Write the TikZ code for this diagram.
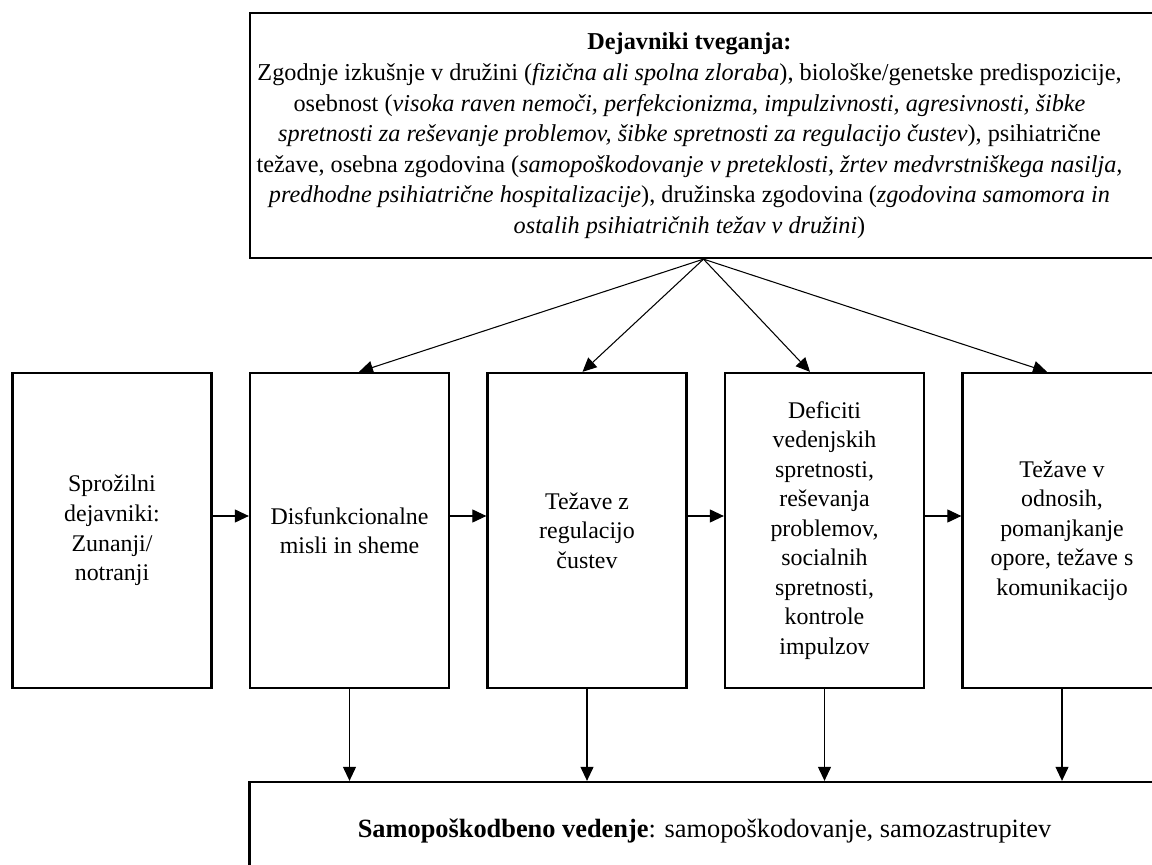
\documentclass[tikz,border=0pt]{standalone}
\usepackage{fontspec}
\setmainfont{Liberation Serif}
\usepackage{tikz}
\usetikzlibrary{shapes,arrows.meta,positioning}

\begin{document}
\begin{tikzpicture}[node distance=4.75cm,
        box/.style={draw, rectangle, line width=1.3pt, align=center, inner sep=2pt},
        rowbox/.style={box, minimum width=3.98cm, minimum height=6.3cm, font=\fontsize{13.6}{16.8}\selectfont},
        arr/.style={-{Triangle[length=2.8mm,width=2.6mm]}, line width=0.6pt}]
        % Page frame
        \useasboundingbox (0,0) rectangle (23.04,-17.3);

        % Middle row
        \node (trigger) [rowbox] at (2.24,-10.61) {Sprožilni\\dejavniki:\\Zunanji/\\notranji};
        \node (thoughts) [right of=trigger, rowbox] {Disfunkcionalne\\misli in sheme};
        \node (emotion) [right of=thoughts, rowbox] {Težave z\\regulacijo\\čustev};
        \node (deficit) [right of=emotion, rowbox] {Deficiti\\vedenjskih\\spretnosti,\\reševanja\\problemov,\\socialnih\\spretnosti,\\kontrole\\impulzov};
        \node (relations) [right of=deficit, rowbox] {Težave v\\odnosih,\\pomanjkanje\\opore, težave s\\komunikacijo};

        % Risk factors (text sits a little left of the box centre)
        \node (risk) [above of=emotion, yshift=3.15cm, xshift=2.33cm, box, minimum width=18.14cm, minimum height=4.9cm, font=\fontsize{13.8}{17.4}\selectfont] {\begin{tabular}{@{}c@{\hspace{0.56cm}}}
            \textbf{Dejavniki tveganja:}\\
            Zgodnje izkušnje v družini (\textit{fizična ali spolna zloraba}), biološke/genetske predispozicije,\\
            osebnost (\textit{visoka raven nemoči, perfekcionizma, impulzivnosti, agresivnosti, šibke}\\
            \textit{spretnosti za reševanje problemov, šibke spretnosti za regulacijo čustev}), psihiatrične\\
            težave, osebna zgodovina (\textit{samopoškodovanje v preteklosti, žrtev medvrstniškega nasilja,}\\
            \textit{predhodne psihiatrične hospitalizacije}), družinska zgodovina (\textit{zgodovina samomora in}\\
            \textit{ostalih psihiatričnih težav v družini})
        \end{tabular}};

        % Outcome
        \node (harm) [below of=emotion, yshift=-1.26cm, xshift=2.35cm, box, minimum width=18.2cm, minimum height=1.96cm, font=\fontsize{15}{17}\selectfont] {\textbf{Samopoškodbeno vedenje}: samopoškodovanje, samozastrupitev};

        % Arrows
        \draw [arr] ([yshift=0.29cm]trigger.east) -- ([yshift=0.29cm]thoughts.west);
        \draw [arr] ([yshift=0.29cm]thoughts.east) -- ([yshift=0.29cm]emotion.west);
        \draw [arr] ([yshift=0.29cm]emotion.east) -- ([yshift=0.29cm]deficit.west);
        \draw [arr] ([yshift=0.29cm]deficit.east) -- ([yshift=0.29cm]relations.west);
        \draw [arr] (risk.south) -- ([xshift=0.19cm]thoughts.north);
        \draw [arr] (risk.south) -- ([xshift=-0.09cm]emotion.north);
        \draw [arr] (risk.south) -- ([xshift=-0.29cm]deficit.north);
        \draw [arr] (risk.south) -- ([xshift=-0.3cm]relations.north);
        \draw [arr] (thoughts.south) -- (thoughts.south |- harm.north);
        \draw [arr] (emotion.south) -- (emotion.south |- harm.north);
        \draw [arr] (deficit.south) -- (deficit.south |- harm.north);
        \draw [arr] (relations.south) -- (relations.south |- harm.north);
    \end{tikzpicture}
\end{document}
